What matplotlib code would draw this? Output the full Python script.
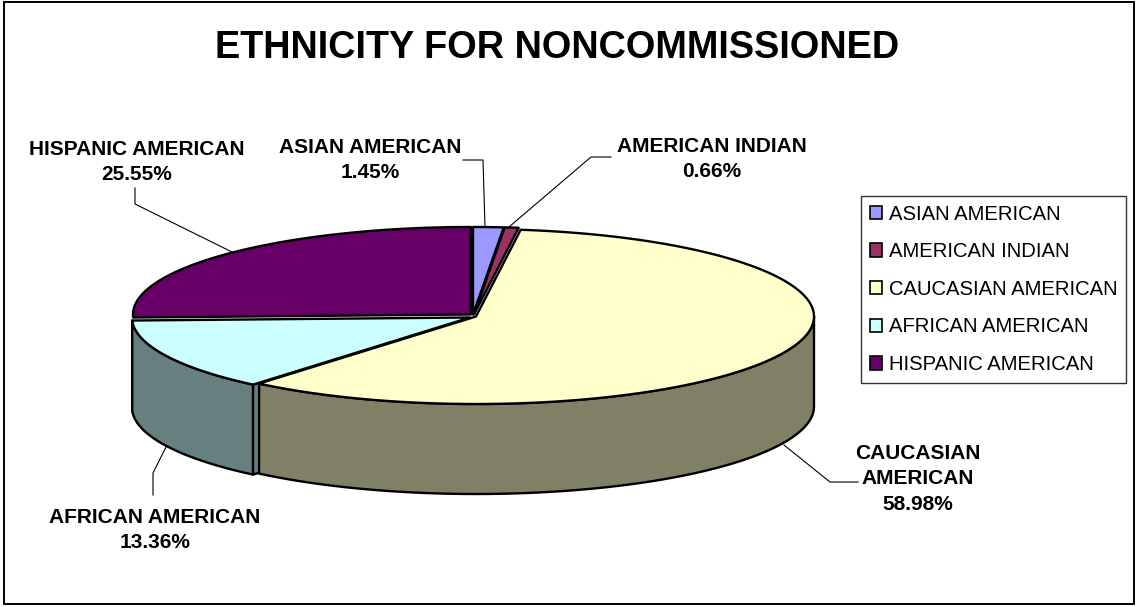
import numpy as np
import matplotlib
matplotlib.use("Agg")
import matplotlib.pyplot as plt
from matplotlib.patches import Polygon, Rectangle, Patch

plt.rcParams['font.family'] = ['Liberation Sans', 'DejaVu Sans']

categories = ["ASIAN AMERICAN", "AMERICAN INDIAN", "CAUCASIAN AMERICAN",
              "AFRICAN AMERICAN", "HISPANIC AMERICAN"]
shares = [1.45, 0.66, 58.98, 13.36, 25.55]
colors = ["#9999FF", "#993366", "#FFFFCC", "#CCFFFF", "#660066"]
side_colors = ["#666699", "#662244", "#808066", "#668080", "#440044"]
offsets = [(1, 0), (2, 0), (4, 2), (-2, 3), (-1, 0)]

CX, CY, RX, RY, DEPTH = 472, 314.5, 338, 87.5, 90
LW = 1.7

fig = plt.figure(figsize=(11.38, 6.07), dpi=100)
ax = fig.add_axes([0, 0, 1, 1])
ax.set_xlim(0, 1138)
ax.set_ylim(607, 0)
ax.axis('off')

ax.add_patch(Rectangle((4.5, 2), 1130, 602, fc='white', ec='black', lw=1.4))

edges = np.concatenate([[0], np.cumsum(shares)]) / sum(shares) * 2 * np.pi


def rim(a0, a1, dx, dy, drop=0):
    t = np.linspace(a0, a1, max(4, int((a1 - a0) * 60)))
    return np.column_stack([CX + dx + RX * np.sin(t), CY + dy + drop - RY * np.cos(t)])


def draw(pts, color):
    ax.add_patch(Polygon(pts, closed=True, fc=color, ec='black', lw=LW, joinstyle='round'))


# African American: outer wall, then the cut face showing next to the Caucasian wall
a0, a1 = edges[3], edges[4]
dx, dy = offsets[3]
top = rim(a0, a1, dx, dy)
bottom = rim(a0, a1, dx, dy, DEPTH)
draw(np.vstack([top, bottom[::-1]]), side_colors[3])
apex = np.array([CX + dx, CY + dy])
edge = top[0]
draw(np.array([edge, edge + (apex - edge) * 0.05, edge + (apex - edge) * 0.05 + [0, DEPTH],
               edge + [0, DEPTH]]), side_colors[3])

# Caucasian American: visible front part of its outer wall
a0, a1 = np.pi / 2, edges[3]
dx, dy = offsets[2]
top = rim(a0, a1, dx, dy)
bottom = rim(a0, a1, dx, dy, DEPTH)
draw(np.vstack([top, bottom[::-1]]), side_colors[2])

# Top faces
for i in [4, 3, 2, 1, 0]:
    dx, dy = offsets[i]
    draw(np.vstack([[CX + dx, CY + dy], rim(edges[i], edges[i + 1], dx, dy)]), colors[i])

# Leader lines
leaders = [
    [(135, 188), (135, 204), (232, 252)],
    [(463, 160), (483, 160), (485, 227)],
    [(611, 157), (591, 157), (509, 227)],
    [(784, 445), (830, 482), (858, 482)],
    [(153, 495), (153, 473), (166, 447)],
]
for line in leaders:
    xs, ys = zip(*line)
    ax.plot(xs, ys, color='black', lw=0.8, solid_joinstyle='miter')

# Title
ax.text(557, 47.5, "ETHNICITY FOR NONCOMMISSIONED", ha='center', va='center',
        fontsize=27.3, fontweight='bold')

# Data labels
label_pos = [(370, 160), (712, 159), (918, 479), (155, 530), (137, 162)]
label_text = ["ASIAN AMERICAN", "AMERICAN INDIAN", "CAUCASIAN\nAMERICAN",
              "AFRICAN AMERICAN", "HISPANIC AMERICAN"]
for (x, y), name, val in zip(label_pos, label_text, shares):
    ax.text(x, y, f"{name}\n{val:.2f}%", ha='center', va='center', fontsize=15,
            fontweight='bold', linespacing=1.45)

# Legend
handles = [Patch(fc=c, ec='black', lw=1.2) for c in colors]
leg = ax.legend(handles, categories, loc='upper left', bbox_to_anchor=(861, 196),
                bbox_transform=ax.transData, borderaxespad=0, fancybox=False,
                edgecolor='#333333', framealpha=1, fontsize=14.6, handlelength=0.62,
                handleheight=0.62, handletextpad=0.35, labelspacing=0.92,
                borderpad=0.42)
leg.get_frame().set_linewidth(1.0)

fig.savefig("out.png", dpi=100)
